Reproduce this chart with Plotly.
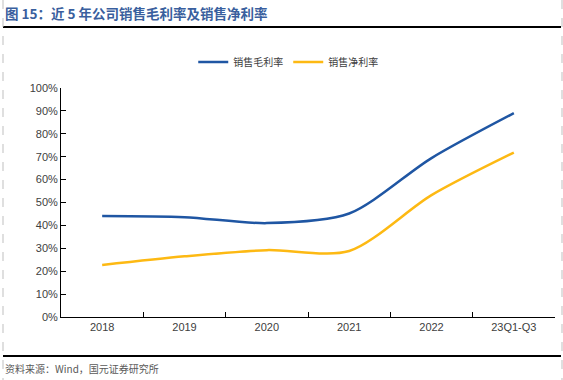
import plotly.graph_objects as go

categories = ["2018", "2019", "2020", "2021", "2022", "23Q1-Q3"]
gross_margin = [0.441, 0.436, 0.410, 0.452, 0.694, 0.890]
net_margin = [0.227, 0.265, 0.292, 0.288, 0.532, 0.718]
y_ticks = [i / 10 for i in range(11)]

fig = go.Figure()
fig.add_trace(go.Scatter(x=categories, y=gross_margin, name="销售毛利率", mode="lines",
                         line=dict(color="#1F56A3", width=2.5, shape="spline", smoothing=0.8)))
fig.add_trace(go.Scatter(x=categories, y=net_margin, name="销售净利率", mode="lines",
                         line=dict(color="#FDB913", width=2.5, shape="spline", smoothing=0.8)))

fig.update_layout(
    width=563, height=380,
    margin=dict(l=61, r=8, t=88, b=63),
    paper_bgcolor="white", plot_bgcolor="white",
    font=dict(family="Noto Sans CJK SC, Liberation Sans, sans-serif", size=11, color="#404040"),
    showlegend=True,
    legend=dict(orientation="h", x=0.46, xanchor="center", y=1 + (88 - 62) / 229, yanchor="middle",
                font=dict(size=10, color="#404040"), itemwidth=30),
    xaxis=dict(type="category", showline=True, linecolor="black", linewidth=1,
               ticks="inside", ticklen=5, tickcolor="black", tickson="boundaries",
               showgrid=False, tickfont=dict(family="Liberation Sans, Arial", size=11, color="#404040"),
               range=[-0.5, 5.5]),
    yaxis=dict(range=[0, 1], tickvals=y_ticks, tickformat=".0%", showline=True,
               linecolor="black", linewidth=1, ticks="inside", ticklen=5, tickcolor="black",
               showgrid=False, zeroline=False,
               tickfont=dict(family="Liberation Sans, Arial", size=11, color="#404040")),
)

fig.add_annotation(text="<b>图 15：近 5 年公司销售毛利率及销售净利率</b>", xref="paper", yref="paper",
                   x=-58 / 494, y=1 + (88 - 13) / 229, xanchor="left", yanchor="middle",
                   showarrow=False, font=dict(size=13.5, color="#3A5F9E"))
fig.add_annotation(text="资料来源：Wind，国元证券研究所", xref="paper", yref="paper",
                   x=-58 / 494, y=-(368 - 317) / 229, xanchor="left", yanchor="middle",
                   showarrow=False, font=dict(size=10, color="#595959"))

# decorative frame lines (pixel positions converted to paper coords)
def px(xp):
    return (xp - 61) / 494

def py(yp):
    return (317 - yp) / 229

fig.add_shape(type="line", xref="paper", yref="paper", x0=px(3), x1=px(561), y0=py(27), y1=py(27),
              line=dict(color="black", width=2))
fig.add_shape(type="line", xref="paper", yref="paper", x0=px(3), x1=px(561), y0=py(356), y1=py(356),
              line=dict(color="black", width=2))
fig.add_shape(type="line", xref="paper", yref="paper", x0=px(3), x1=px(3), y0=py(0), y1=py(380),
              line=dict(color="#BFBFBF", width=1, dash="dash"))
fig.add_shape(type="line", xref="paper", yref="paper", x0=px(562), x1=px(562), y0=py(0), y1=py(380),
              line=dict(color="#BFBFBF", width=1, dash="dash"))

fig.write_html("out.html", config={"displayModeBar": False},
               post_script="document.body.style.margin='0';document.body.style.overflow='hidden';")
